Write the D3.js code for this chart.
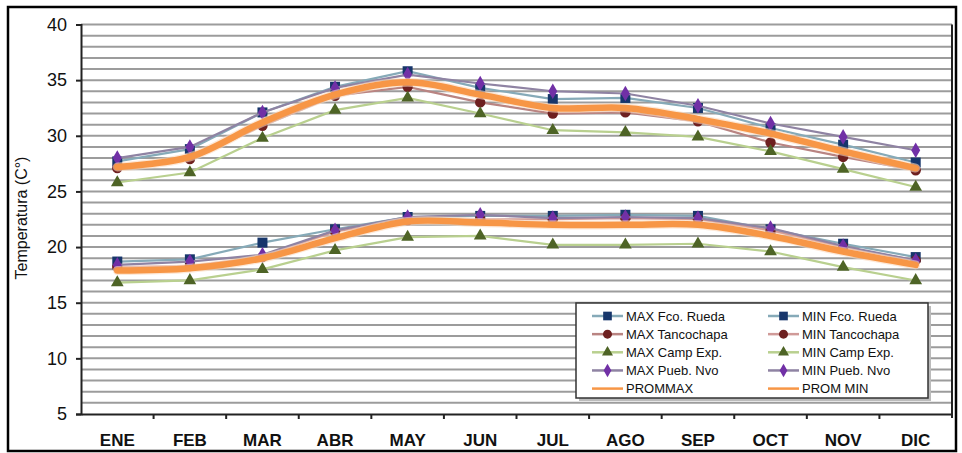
<!DOCTYPE html>
<html lang="es">
<head>
  <meta charset="UTF-8">
  <title>Temperatura</title>
  <script src="https://d3js.org/d3.v7.min.js"></script>
  <style>
    body { margin: 0; background: #fff; }
    text { font-family: "Liberation Sans", Arial, sans-serif; fill: #111; }
  </style>
</head>
<body>
  <div id="root"></div>
  <script>
    // datos
    const months = ['ENE', 'FEB', 'MAR', 'ABR', 'MAY', 'JUN', 'JUL', 'AGO', 'SEP', 'OCT', 'NOV', 'DIC']
    const yTicks = [5, 10, 15, 20, 25, 30, 35, 40]

    const maxFco   = [27.7, 28.8, 32.1, 34.4, 35.8, 34.3, 33.3, 33.4, 32.5, 30.7, 29.2, 27.6]
    const minFco   = [18.7, 18.9, 20.4, 21.6, 22.7, 22.8, 22.8, 22.9, 22.8, 21.6, 20.3, 19.1]
    const maxTanco = [27.1, 27.9, 30.9, 33.6, 34.4, 33.0, 32.0, 32.1, 31.3, 29.4, 28.1, 26.9]
    const minTanco = [18.2, 18.3, 19.1, 21.4, 22.4, 22.5, 22.5, 22.6, 22.5, 21.5, 20.0, 18.8]
    const maxCamp  = [25.8, 26.7, 29.8, 32.3, 33.4, 32.0, 30.5, 30.3, 29.9, 28.6, 27.0, 25.4]
    const minCamp  = [16.8, 17.0, 18.0, 19.7, 20.9, 21.0, 20.2, 20.2, 20.3, 19.6, 18.2, 17.0]
    const maxPueb  = [28.0, 29.0, 32.1, 34.3, 35.5, 34.7, 34.0, 33.8, 32.7, 31.1, 29.9, 28.7]
    const minPueb  = [18.4, 18.7, 19.3, 21.5, 22.7, 22.9, 22.6, 22.7, 22.6, 21.7, 20.1, 18.8]
    const promMax  = [27.2, 28.1, 31.2, 33.7, 34.8, 33.7, 32.5, 32.5, 31.5, 30.2, 28.6, 27.1]
    const promMin  = [17.9, 18.1, 19.0, 20.8, 22.3, 22.2, 22.0, 22.0, 22.0, 21.0, 19.6, 18.4]

    // series en el orden de dibujo / leyenda
    const series = [
      {name: 'MAX Fco. Rueda',  values: maxFco,   line: '#86aab8', mark: '#17366b', sym: d3.symbolSquare,   size: 100},
      {name: 'MIN Fco. Rueda',  values: minFco,   line: '#86aab8', mark: '#17366b', sym: d3.symbolSquare,   size: 100},
      {name: 'MAX Tancochapa',  values: maxTanco, line: '#b98482', mark: '#6e2020', sym: d3.symbolCircle,   size: 85},
      {name: 'MIN Tancochapa',  values: minTanco, line: '#d09a98', mark: '#6e2020', sym: d3.symbolCircle,   size: 85},
      {name: 'MAX Camp Exp.',   values: maxCamp,  line: '#b9d08f', mark: '#4e6426', sym: d3.symbolTriangle, size: 70},
      {name: 'MIN Camp Exp.',   values: minCamp,  line: '#b9d08f', mark: '#4e6426', sym: d3.symbolTriangle, size: 70},
      {name: 'MAX Pueb. Nvo',   values: maxPueb,  line: '#8f83a3', mark: '#7130a6', sym: d3.symbolDiamond,  size: 70},
      {name: 'MIN Pueb. Nvo',   values: minPueb,  line: '#8f83a3', mark: '#7130a6', sym: d3.symbolDiamond,  size: 70},
      {name: 'PROMMAX',         values: promMax,  line: '#f79646', prom: true},
      {name: 'PROM MIN',        values: promMin,  line: '#f79646', prom: true}
    ]

    const width = 962
    const height = 453
    const margin = {top: 24.5, right: 10, bottom: 39, left: 81}

    const svg = d3.select('#root')
      .append('svg')
      .attr('width', width)
      .attr('height', height)

    // marco exterior
    svg.append('rect')
      .attr('x', 8).attr('y', 7)
      .attr('width', 948).attr('height', 444)
      .attr('fill', 'none')
      .attr('stroke', '#000')
      .attr('stroke-width', 2.5)

    const x = d3.scaleBand()
      .domain(months)
      .range([margin.left, width - margin.right])

    const y = d3.scaleLinear()
      .domain([5, 40])
      .range([height - margin.bottom, margin.top])

    // lineas de division cada 1 grado
    svg.append('g')
      .selectAll('line')
      .data(d3.range(6, 41))
      .join('line')
      .attr('x1', margin.left)
      .attr('x2', width - margin.right)
      .attr('y1', d => y(d))
      .attr('y2', d => y(d))
      .attr('stroke', '#9c9c9c')
      .attr('stroke-width', 2)

    // eje y
    const yAxisG = svg.append('g')
      .attr('transform', `translate(${margin.left},0)`)
      .call(d3.axisLeft(y).tickValues(yTicks).tickSize(5).tickPadding(9))
    yAxisG.select('.domain').attr('stroke', '#222').attr('stroke-width', 2)
    yAxisG.selectAll('.tick line').attr('stroke', '#222').attr('stroke-width', 2)
    yAxisG.selectAll('.tick text')
      .attr('font-size', 18)
      .attr('font-family', '"Liberation Sans", Arial, sans-serif')
      .attr('fill', '#111')

    // borde derecho
    svg.append('line')
      .attr('x1', width - margin.right).attr('x2', width - margin.right)
      .attr('y1', margin.top).attr('y2', y(5) + 4)
      .attr('stroke', '#222').attr('stroke-width', 2)

    // eje x
    const xAxisG = svg.append('g')
      .attr('transform', `translate(0,${y(5)})`)
      .call(d3.axisBottom(x).tickSize(0).tickPadding(20))
    xAxisG.select('.domain').attr('stroke', '#222').attr('stroke-width', 2)
    xAxisG.selectAll('.tick text')
      .attr('font-size', 17)
      .attr('font-weight', 'bold')
      .attr('font-family', '"Liberation Sans", Arial, sans-serif')
      .attr('fill', '#111')

    // marcas entre meses
    svg.append('g')
      .selectAll('line')
      .data(months.slice(1))
      .join('line')
      .attr('x1', d => x(d)).attr('x2', d => x(d))
      .attr('y1', y(5)).attr('y2', y(5) + 5)
      .attr('stroke', '#222').attr('stroke-width', 2)

    // titulo eje y
    svg.append('text')
      .attr('transform', 'translate(27,218) rotate(-90)')
      .attr('text-anchor', 'middle')
      .attr('font-size', 16)
      .text('Temperatura (C°)')

    const cx = (d, i) => x(months[i]) + x.bandwidth() / 2

    const thin = d3.line()
      .x(cx)
      .y(d => y(d))

    const smooth = d3.line()
      .x(cx)
      .y(d => y(d))
      .curve(d3.curveCatmullRom)

    const plot = svg.append('g')

    series.forEach(s => {
      if (s.prom) {
        plot.append('path')
          .attr('d', smooth(s.values))
          .attr('fill', 'none')
          .attr('stroke', '#fbd9bd')
          .attr('stroke-width', 9)
          .attr('stroke-linecap', 'round')
          .attr('opacity', 0.6)
        plot.append('path')
          .attr('d', smooth(s.values))
          .attr('fill', 'none')
          .attr('stroke', s.line)
          .attr('stroke-width', 6.5)
          .attr('stroke-linecap', 'round')
      } else {
        plot.append('path')
          .attr('d', thin(s.values))
          .attr('fill', 'none')
          .attr('stroke', s.line)
          .attr('stroke-width', 2.2)
        plot.append('g')
          .selectAll('path')
          .data(s.values)
          .join('path')
          .attr('transform', (d, i) => `translate(${cx(d, i)},${y(d)})`)
          .attr('d', d3.symbol(s.sym, s.size))
          .attr('fill', s.mark)
      }
    })

    // leyenda
    const legX = 576, legY = 303, legW = 352, legH = 95
    svg.append('rect')
      .attr('x', legX + 3).attr('y', legY + 3)
      .attr('width', legW).attr('height', legH)
      .attr('fill', '#bbb')
    svg.append('rect')
      .attr('x', legX).attr('y', legY)
      .attr('width', legW).attr('height', legH)
      .attr('fill', '#fff')
      .attr('stroke', '#333')
      .attr('stroke-width', 1.5)

    const legend = svg.append('g')
    series.forEach((s, i) => {
      const col = i % 2
      const row = Math.floor(i / 2)
      const gx = legX + 16 + col * 176
      const gy = legY + 13 + row * 18.15
      const item = legend.append('g').attr('transform', `translate(${gx},${gy})`)
      item.append('line')
        .attr('x1', 0).attr('x2', 31)
        .attr('stroke', s.line)
        .attr('stroke-width', 2.5)
      if (!s.prom) {
        item.append('path')
          .attr('transform', 'translate(15.5,0)')
          .attr('d', d3.symbol(s.sym, s.size * 0.75))
          .attr('fill', s.mark)
      }
      item.append('text')
        .attr('x', 34)
        .attr('dy', '0.36em')
        .attr('font-size', 13)
        .text(s.name)
    })
  </script>
</body>
</html>
